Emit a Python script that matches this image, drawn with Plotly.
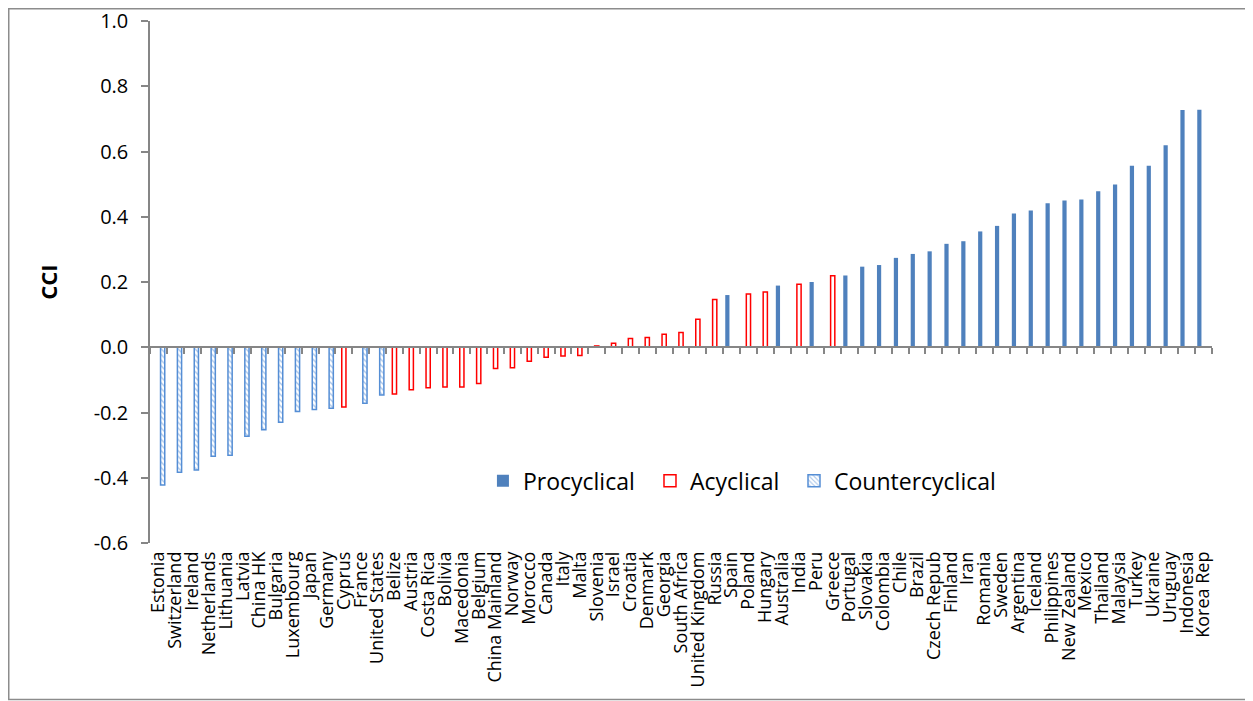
import plotly.graph_objects as go

countries = ["Estonia", "Switzerland", "Ireland", "Netherlands", "Lithuania", "Latvia", "China HK",
             "Bulgaria", "Luxembourg", "Japan", "Germany", "Cyprus", "France", "United States",
             "Belize", "Austria", "Costa Rica", "Bolivia", "Macedonia", "Belgium", "China Mainland",
             "Norway", "Morocco", "Canada", "Italy", "Malta", "Slovenia", "Israel", "Croatia",
             "Denmark", "Georgia", "South Africa", "United Kingdom", "Russia", "Spain", "Poland",
             "Hungary", "Australia", "India", "Peru", "Greece", "Portugal", "Slovakia", "Colombia",
             "Chile", "Brazil", "Czech Repub", "Finland", "Iran", "Romania", "Sweden", "Argentina",
             "Iceland", "Philippines", "New Zealand", "Mexico", "Thailand", "Malaysia", "Turkey",
             "Ukraine", "Uruguay", "Indonesia", "Korea Rep"]

cci = [-0.422, -0.383, -0.376, -0.334, -0.331, -0.273, -0.253,
       -0.230, -0.197, -0.191, -0.187, -0.183, -0.172, -0.146,
       -0.143, -0.130, -0.124, -0.122, -0.122, -0.111, -0.065,
       -0.063, -0.043, -0.031, -0.027, -0.025, 0.004, 0.012, 0.027,
       0.030, 0.040, 0.045, 0.086, 0.146, 0.160, 0.163,
       0.169, 0.189, 0.193, 0.200, 0.219, 0.220, 0.247, 0.252,
       0.274, 0.286, 0.294, 0.317, 0.325, 0.355, 0.372, 0.410,
       0.419, 0.441, 0.450, 0.453, 0.478, 0.499, 0.556,
       0.556, 0.619, 0.727, 0.728]

# P = procyclical, A = acyclical, C = countercyclical
group = ["C", "C", "C", "C", "C", "C", "C",
         "C", "C", "C", "C", "A", "C", "C",
         "A", "A", "A", "A", "A", "A", "A",
         "A", "A", "A", "A", "A", "A", "A", "A",
         "A", "A", "A", "A", "A", "P", "A",
         "A", "P", "A", "P", "A", "P", "P", "P",
         "P", "P", "P", "P", "P", "P", "P", "P",
         "P", "P", "P", "P", "P", "P", "P",
         "P", "P", "P", "P"]

series_names = {"P": "Procyclical", "A": "Acyclical", "C": "Countercyclical"}
y_ticks = [-0.6, -0.4, -0.2, 0.0, 0.2, 0.4, 0.6, 0.8, 1.0]
y_ticktext = [f"{v:.1f}" for v in y_ticks]

def series(code):
    return [v if g == code else None for v, g in zip(cci, group)]

BLUE = "#4F81BD"
GRAY = "#868686"
FONT = "Open Sans"

W, H = 1245, 693          # page body has an 8px margin
L, R, T, B = 142, 41, 13, 158
PW, PH = W - L - R, H - T - B
x_range = [-0.5, len(countries) - 0.5]

fig = go.Figure()
fig.add_trace(go.Bar(name=series_names["P"], x=countries, y=series("P"), legend="legend",
                     marker=dict(color=BLUE, line=dict(color=BLUE, width=0))))
fig.add_trace(go.Bar(name=series_names["A"], x=countries, y=series("A"), legend="legend2",
                     marker=dict(color="white", line=dict(color="#FF0000", width=1.5))))
fig.add_trace(go.Bar(name=series_names["C"], x=countries, y=series("C"), legend="legend3",
                     marker=dict(color="white", line=dict(color="#558ED5", width=1.5),
                                 pattern=dict(shape="\\", fgcolor="#558ED5", bgcolor="white",
                                              size=4, solidity=0.35))))
# helper trace for the zero-crossing category axis
fig.add_trace(go.Scatter(x=countries, y=cci, mode="markers", marker=dict(opacity=0),
                         showlegend=False, hoverinfo="skip", xaxis="x2", yaxis="y"))

def legend_at(x):
    return dict(orientation="h", x=x, xanchor="left", y=0.119, yanchor="middle",
                font=dict(size=23, family=FONT), bgcolor="rgba(0,0,0,0)")

fig.update_layout(
    width=W, height=H,
    margin=dict(l=L, r=R, t=T, b=B, autoexpand=False),
    paper_bgcolor="white", plot_bgcolor="white",
    font=dict(family=FONT, color="black"),
    barmode="group", bargap=0.25, bargroupgap=0,
    showlegend=True,
    legend=legend_at(0.3135),
    legend2=legend_at(0.4708),
    legend3=legend_at(0.6064),
    xaxis=dict(type="category", range=x_range, autorange=False, showline=False, ticks="",
               showgrid=False, zeroline=False,
               tickmode="array", tickvals=countries, ticktext=countries, automargin=False,
               tickangle=-90, tickfont=dict(size=18, family=FONT), ticklabelstandoff=4),
    xaxis2=dict(type="category", overlaying="x", range=x_range, autorange=False,
                anchor="free", position=0.375,
                showline=True, linecolor=GRAY, linewidth=1.5, ticks="outside", ticklen=6,
                tickcolor=GRAY, tickwidth=1.5, tickson="boundaries", showticklabels=False,
                showgrid=False, zeroline=False, automargin=False),
    yaxis=dict(range=[-0.6, 1.0], tickvals=y_ticks, ticktext=y_ticktext, showline=True,
               linecolor=GRAY, linewidth=1.5, ticks="outside", ticklen=7, tickcolor=GRAY,
               tickwidth=1.5, showgrid=False, zeroline=False, automargin=False,
               ticklabeloverflow="allow",
               tickfont=dict(size=20, family=FONT), ticklabelstandoff=9,
               title=dict(text="<b>CCI</b>", font=dict(size=22, family=FONT), standoff=30)),
    shapes=[dict(type="rect", xref="paper", yref="paper",
                 x0=(0.75 - L) / PW, x1=(W + 10 - L) / PW,
                 y0=(PH + T - 691.5) / PH, y1=1 + (T - 0.75) / PH,
                 line=dict(color="#8C8C8C", width=1.5), fillcolor="rgba(0,0,0,0)", layer="below")],
)

fig.write_html("out.html")
